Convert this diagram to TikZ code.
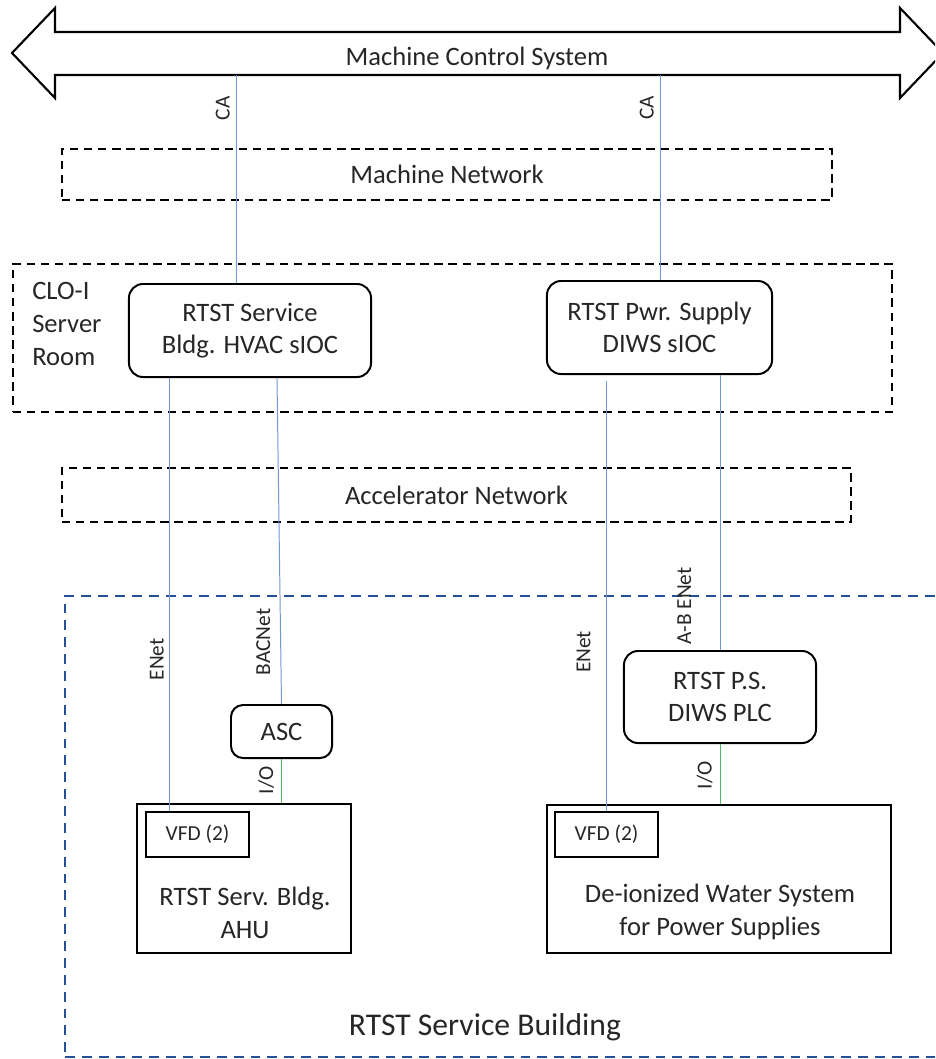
\documentclass[tikz,border=0pt]{standalone}
\usepackage{fontspec}
\setmainfont{Carlito}
\usepackage{tikz}
\usetikzlibrary{positioning,calc}
\definecolor{linkblue}{RGB}{115,150,215}
\definecolor{iogreen}{RGB}{80,185,110}
\definecolor{bldgblue}{RGB}{35,80,150}
\newcommand{\mainsize}{\fontsize{18.9pt}{23.2pt}\selectfont}
\newcommand{\tagsize}{\fontsize{15.2pt}{18pt}\selectfont}
\newcommand{\bldgsize}{\fontsize{22.5pt}{27pt}\selectfont}

\begin{document}
\begin{tikzpicture}[x=0.025cm,y=-0.025cm,font=\mainsize,text=black!85]
  \tikzstyle{rbox}=[draw,line width=1.4pt,rounded corners=0.35cm,align=center,inner sep=0pt]
  \tikzstyle{sqbox}=[draw,line width=1.4pt,inner sep=0pt]
  \tikzstyle{zone}=[draw,line width=1.4pt,dash pattern=on 6pt off 4pt,inner sep=0pt]
  \tikzstyle{bus}=[linkblue,line width=0.7pt]
  \tikzstyle{io}=[iogreen,line width=0.7pt]
  \tikzstyle{tag}=[font=\tagsize,text=black!85,rotate=90,anchor=south]
  \clip (0,0) rectangle (935,1059);

  % machine control system bus
  \draw[line width=1.5pt] (55,32) -- (55,8) -- (12,53) -- (55,98) -- (55,75) -- (900,75)
    -- (900,98) -- (943,53) -- (900,8) -- (900,32) -- cycle;
  \node (mcs) at (477,58) {Machine Control System};
  \coordinate (ca1) at (236,75);
  \coordinate (ca2) at (660,75);

  % networks and rooms
  \node[zone,minimum width=19.25cm,minimum height=1.275cm] (mnet) at (447,174.5) {Machine Network};
  \node[zone,minimum width=21.975cm,minimum height=3.7cm] (clo) at (452.5,338) {};
  \node[align=left,anchor=west,inner sep=0pt] (clolbl) at (32,324) {CLO-I\\Server\\Room};
  \node[zone,minimum width=19.725cm,minimum height=1.35cm] (anet) at (456.5,495) {Accelerator Network};
  \node[zone,draw=bldgblue,dash pattern=on 7pt off 5pt,minimum width=22.4cm,minimum height=11.525cm,
    anchor=north west] (bldg) at (64,595) {};
  \node[font=\bldgsize] (bldglbl) at (485,1027) {RTST Service Building};

  % IOCs
  \node[rbox,minimum width=6.05cm,minimum height=2.325cm] (hvac) at (250,330.5) {RTST Service\\Bldg. HVAC sIOC};
  \node[rbox,minimum width=5.625cm,minimum height=2.325cm] (pwr) at (659.5,327.5) {RTST Pwr. Supply\\DIWS sIOC};

  % controllers
  \node[rbox,rounded corners=0.3cm,minimum width=2.525cm,minimum height=1.325cm] (asc) at (281.5,731.5) {ASC};
  \node[rbox,minimum width=4.8cm,minimum height=2.3cm] (plc) at (720,697) {RTST P.S.\\DIWS PLC};

  % equipment
  \node[sqbox,minimum width=5.35cm,minimum height=3.725cm] (ahu) at (244,878.5) {};
  \node[sqbox,font=\tagsize,minimum width=2.575cm,minimum height=1.125cm] (vfd1) at (197.5,834.5) {VFD (2)};
  \node[align=center] (ahulbl) at (245,913) {RTST Serv. Bldg.\\AHU};
  \node[sqbox,minimum width=8.6cm,minimum height=3.7cm] (diws) at (719,879) {};
  \node[sqbox,font=\tagsize,minimum width=2.575cm,minimum height=1.125cm] (vfd2) at (606.5,834.5) {VFD (2)};
  \node[align=center] (diwslbl) at (720,912) {De-ionized Water System\\for Power Supplies};

  % links
  \coordinate (en1) at ($(hvac.south west)+(42,0)$);
  \coordinate (bac) at ($(hvac.south)+(27,0)$);
  \coordinate (en2) at ($(pwr.south -| vfd2.north)+(0,6)$);
  \draw[bus] (ca1) -- node[tag,pos=0.16,inner sep=4pt] {CA} (ca1 |- hvac.north);
  \draw[bus] (ca2) -- node[tag,pos=0.16,inner sep=4pt] {CA} (ca2 |- pwr.north);
  \draw[bus] (en1) -- node[tag,pos=0.65,inner sep=4pt] {ENet} (en1 |- vfd1.north);
  \draw[bus] (bac) -- node[tag,pos=0.81,inner sep=7pt] {BACNet} (asc.north);
  \draw[bus] (en2) -- node[tag,pos=0.63,inner sep=11pt] {ENet} (vfd2.north);
  \draw[bus] (pwr.south -| plc.north) -- node[tag,pos=0.84,inner sep=20pt] {A-B ENet} (plc.north);
  \draw[io] (asc.south) -- node[tag,pos=0.48,inner sep=5pt] {I/O} (asc.south |- ahu.north);
  \draw[io] (plc.south) -- node[tag,pos=0.52,inner sep=5pt] {I/O} (plc.south |- diws.north);
\end{tikzpicture}
\end{document}
